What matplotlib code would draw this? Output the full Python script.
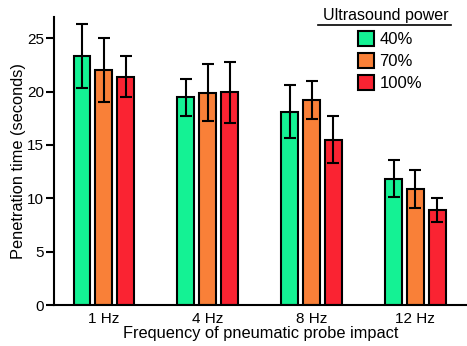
import numpy as np
import matplotlib
matplotlib.use("Agg")
import matplotlib.pyplot as plt
from matplotlib.patches import Patch
from matplotlib.lines import Line2D

plt.rcParams['font.family'] = ['Liberation Sans', 'DejaVu Sans']

# -------------------------------------------------
# DATA
# -------------------------------------------------
freqs = ['1 Hz', '4 Hz', '8 Hz', '12 Hz']
powers = ['40%', '70%', '100%']

mean_40 = [23.3, 19.45, 18.1, 11.85]
mean_70 = [22.05, 19.9, 19.2, 10.9]
mean_100 = [21.4, 19.95, 15.5, 8.9]

err_40 = [3.0, 1.7, 2.47, 1.7]
err_70 = [3.0, 2.7, 1.8, 1.8]
err_100 = [1.9, 2.85, 2.2, 1.1]

colors = ['#14F294', '#F98038', '#FA2332']

# -------------------------------------------------
# PLOT
# -------------------------------------------------
fig = plt.figure(figsize=(4.67, 3.46), dpi=100)
ax = fig.add_axes([0.1156, 0.1176, 0.884, 0.834])

x = np.arange(len(freqs))
width = 0.163
step = 0.21
means = [mean_40, mean_70, mean_100]
errs = [err_40, err_70, err_100]

for i, (m, e, c) in enumerate(zip(means, errs, colors)):
    ax.bar(x + (i - 1) * step, m, width, color=c, edgecolor='black',
           linewidth=1.5, yerr=e, zorder=2,
           error_kw=dict(ecolor='black', elinewidth=1.5, capsize=4.5, capthick=1.5))

ax.set_xlim(-0.48, 3.495)
ax.set_ylim(0, 27)
ax.set_yticks([0, 5, 10, 15, 20, 25])
ax.set_xticks(x)
ax.set_xticklabels(freqs)

ax.spines['top'].set_visible(False)
ax.spines['right'].set_visible(False)
ax.spines['left'].set_linewidth(1.5)
ax.spines['bottom'].set_linewidth(1.5)
ax.tick_params(axis='y', length=6, width=1.5, labelsize=11, pad=1)
ax.tick_params(axis='x', length=0, labelsize=11, pad=5)

ax.set_xlabel('Frequency of pneumatic probe impact', fontsize=11.8, labelpad=0)
ax.set_ylabel('Penetration time (seconds)', fontsize=11.8, labelpad=1)

# legend with underlined title
handles = [Patch(facecolor=c, edgecolor='black', linewidth=1.5) for c in colors]
leg = ax.legend(handles, powers, loc='upper left', bbox_to_anchor=(0.736, 0.950),
                frameon=False, fontsize=12, handlelength=1.0, handleheight=1.0,
                handletextpad=0.3, labelspacing=0.34, borderaxespad=0, borderpad=0)

fig.text(0.826, 0.956, 'Ultrasound power', fontsize=11.5, ha='center', va='center')
fig.add_artist(Line2D([0.680, 0.966], [0.929, 0.929], color='black', lw=1.2,
                      transform=fig.transFigure))

fig.savefig('out.png', dpi=100)
